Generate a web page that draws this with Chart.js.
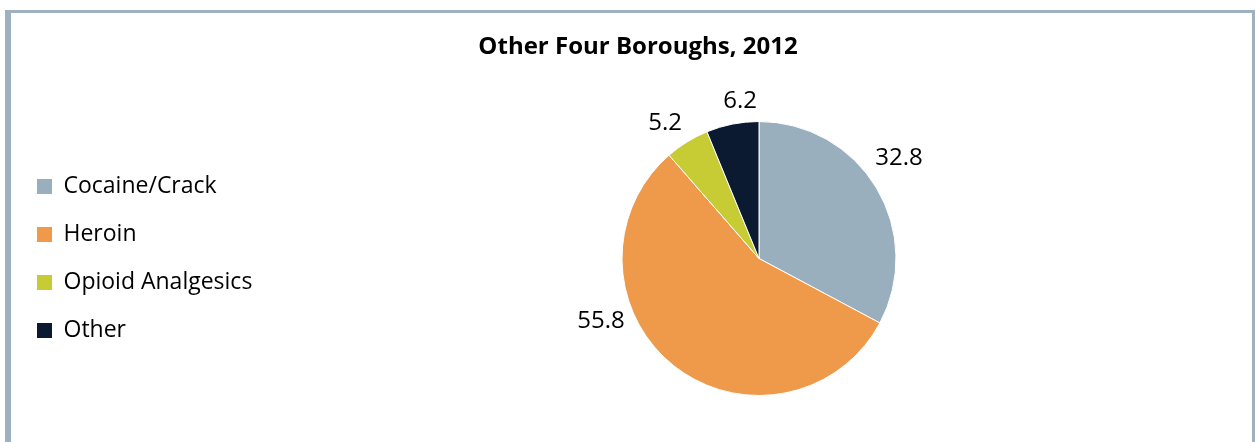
<!DOCTYPE html>
<html>
<head>
<meta charset="utf-8">
<script src="https://cdn.jsdelivr.net/npm/chart.js@4.4.1/dist/chart.umd.min.js"></script>
<style>
    html, body { margin: 0; padding: 0; background: #fff; overflow: hidden; width: 1255px; height: 442px; }
    #frame {
        position: absolute; left: 5px; top: 10px; width: 1241px; height: 500px;
        border-left: 6px solid #9db1c0; border-top: 3px solid #9db1c0; border-right: 3px solid #9db1c0;
    }
    #chartBoroughs { position: absolute; left: 0; top: 0; }
</style>
</head>
<body>
<div id="frame"></div>
<canvas id="chartBoroughs" width="1264" height="442"></canvas>
<script>
// =============================
// Other Four Boroughs, 2012
// =============================
const categorias = ['Cocaine/Crack', 'Heroin', 'Opioid Analgesics', 'Other'];
const valores = [32.8, 55.8, 5.2, 6.2];
const colores = ['#9aafbd', '#ee9a4a', '#c7cb34', '#0b1a30'];

// ajuste de cada etiqueta (giro en grados, separación del borde en px)
const giroEtiqueta = [-4.6, 29.9, -3, 4.3];
const sepEtiqueta = [35, 33, 28, 21];

const etiquetasFuera = {
    id: 'etiquetasFuera',
    afterDatasetsDraw(chart) {
        const { ctx } = chart;
        const meta = chart.getDatasetMeta(0);
        ctx.save();
        ctx.font = '24px "Open Sans"';
        ctx.fillStyle = '#000';
        ctx.textAlign = 'center';
        ctx.textBaseline = 'middle';
        meta.data.forEach((arc, i) => {
            const p = arc.getProps(['x', 'y', 'startAngle', 'endAngle', 'outerRadius'], true);
            const ang = (p.startAngle + p.endAngle) / 2 + giroEtiqueta[i] * Math.PI / 180;
            const r = p.outerRadius + sepEtiqueta[i];
            ctx.fillText(valores[i].toFixed(1), p.x + Math.cos(ang) * r, p.y + Math.sin(ang) * r);
        });
        ctx.restore();
    }
};

const ctxBoroughs = document.getElementById('chartBoroughs');
new Chart(ctxBoroughs, {
    type: 'pie',
    data: {
        labels: categorias,
        datasets: [{
            data: valores,
            backgroundColor: colores,
            borderColor: '#ffffff',
            borderWidth: 1,
            hoverOffset: 0
        }]
    },
    options: {
        responsive: false,
        animation: false,
        layout: { padding: { left: 12, right: 0, top: 0, bottom: 46 } },
        plugins: {
            title: {
                display: true,
                text: 'Other Four Boroughs, 2012',
                color: '#000',
                font: { family: '"Open Sans"', size: 24, weight: 'bold' },
                padding: { top: 32.6, bottom: 59.6 }
            },
            legend: {
                position: 'left',
                fullSize: false,
                maxWidth: 242,
                labels: {
                    color: '#000',
                    font: { family: '"Open Sans"', size: 23 },
                    boxWidth: 15,
                    boxHeight: 15,
                    padding: 25,
                    generateLabels(chart) {
                        return Chart.overrides.pie.plugins.legend.labels.generateLabels(chart)
                            .map(l => ({ ...l, lineWidth: 0 }));
                    }
                }
            },
            tooltip: { enabled: false }
        }
    },
    plugins: [etiquetasFuera]
});
</script>
</body>
</html>
